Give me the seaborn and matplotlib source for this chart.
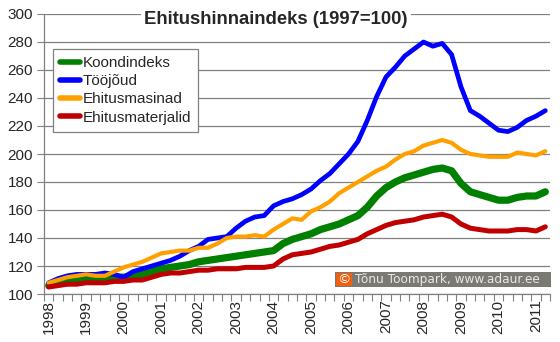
import numpy as np
import pandas as pd
import matplotlib
matplotlib.use("Agg")
import matplotlib.pyplot as plt
from matplotlib.patches import Rectangle
import seaborn as sns

# ---------------- data (quarterly, 1998Q1 .. 2011Q2) ----------------
year_labels = ["1998", "1999", "2000", "2001", "2002", "2003", "2004",
               "2005", "2006", "2007", "2008", "2009", "2010", "2011"]
quarters = [f"{y}Q{q}" for y in range(1998, 2012) for q in range(1, 5)][:54]

koondindeks = [106, 108, 109, 110, 111, 111, 112, 112, 112, 113, 114, 116,
               118, 119, 120, 121, 123, 124, 125, 126, 127, 128, 129, 130,
               131, 136, 139, 141, 143, 146, 148, 150, 153, 156, 162, 170,
               176, 180, 183, 185, 187, 189, 190, 188, 179, 173, 171, 169,
               167, 167, 169, 170, 170, 173]
toojoud = [108, 111, 113, 114, 114, 114, 115, 114, 112, 116, 118, 120,
           122, 124, 127, 131, 134, 139, 140, 141, 147, 152, 155, 156,
           163, 166, 168, 171, 175, 181, 186, 193, 200, 209, 224, 241,
           255, 262, 270, 275, 280, 277, 279, 271, 248, 231, 227, 222,
           217, 216, 219, 224, 227, 231]
ehitusmasinad = [108, 110, 112, 113, 114, 113, 113, 116, 119, 121, 123, 126,
                 129, 130, 131, 131, 133, 133, 136, 140, 141, 141, 142, 141,
                 146, 150, 154, 153, 159, 162, 166, 172, 176, 180, 184, 188,
                 191, 196, 200, 202, 206, 208, 210, 208, 203, 200, 199, 198,
                 198, 198, 201, 200, 199, 202]
ehitusmaterjalid = [105, 106, 107, 107, 108, 108, 108, 109, 109, 110, 110, 112,
                    114, 115, 115, 116, 117, 117, 118, 118, 118, 119, 119, 119,
                    120, 125, 128, 129, 130, 132, 134, 135, 137, 139, 143, 146,
                    149, 151, 152, 153, 155, 156, 157, 155, 150, 147, 146, 145,
                    145, 145, 146, 146, 145, 148]

series_names = ["Koondindeks", "Tööjõud", "Ehitusmasinad", "Ehitusmaterjalid"]
series_values = [koondindeks, toojoud, ehitusmasinad, ehitusmaterjalid]
series_colors = ["#008000", "#0000ff", "#ffa000", "#c00000"]
series_widths = [5.2, 3.4, 3.0, 3.6]

title = "Ehitushinnaindeks (1997=100)"
copyright_text = "Tõnu Toompark, www.adaur.ee"

# ---------------- figure ----------------
sns.set_style("white")
plt.rcParams["font.family"] = ["Liberation Sans", "DejaVu Sans"]

fig = plt.figure(figsize=(5.6, 3.42), dpi=100)
ax = fig.add_axes([44 / 560, 1 - 294 / 342, (550 - 44) / 560, (294 - 14) / 342])

pos = np.arange(len(quarters))
for name, vals, col, lw in zip(series_names, series_values, series_colors, series_widths):
    df = pd.DataFrame({"pos": pos, "value": vals})
    sns.lineplot(data=df, x="pos", y="value", ax=ax, color=col, linewidth=lw,
                 label=name, solid_capstyle="round", solid_joinstyle="round")

ax.set_xlim(-0.5, len(quarters) - 0.5)
ax.set_ylim(100, 300)
ax.set_xlabel("")
ax.set_ylabel("")

# y axis
ax.set_yticks(np.arange(100, 301, 20))
ax.yaxis.grid(True, color="#808080", linewidth=0.9)
ax.xaxis.grid(False)
ax.tick_params(axis="y", direction="out", length=5, width=0.8, color="#808080",
               labelsize=11, pad=3, left=True)

# x axis: labels at year starts, tick marks between quarters
ax.set_xticks(pos[::4])
ax.set_xticklabels(year_labels, rotation=90)
ax.set_xticks(np.arange(-0.5, len(quarters), 1), minor=True)
ax.tick_params(axis="x", which="major", length=0, labelsize=11, pad=4)
ax.tick_params(axis="x", which="minor", direction="out", length=5, width=0.8,
               color="#808080", bottom=True)

for s in ["top", "right"]:
    ax.spines[s].set_visible(False)
for s in ["left", "bottom"]:
    ax.spines[s].set_color("#808080")
    ax.spines[s].set_linewidth(0.9)

# legend
leg = ax.legend(loc="upper left", bbox_to_anchor=(53 / 560, 1 - 49 / 342),
                bbox_transform=fig.transFigure, fontsize=11, frameon=True,
                fancybox=False, framealpha=1, edgecolor="#808080",
                handlelength=1.3, handletextpad=0.2, labelspacing=0.28,
                borderpad=0.45, borderaxespad=0)
leg.get_frame().set_linewidth(0.9)
for h in leg.get_lines():
    h.set_linewidth(4.0)
    h.set_solid_capstyle("round")

# title with white box over the top gridline
fig.text(276 / 560, 1 - 20 / 342, title, ha="center", va="center",
         fontsize=13.3, fontweight="bold",
         bbox=dict(facecolor="white", edgecolor="none", pad=2.5))

# copyright box
fig.patches.append(Rectangle((335 / 560, 1 - 287 / 342), (551 - 335) / 560, 15 / 342,
                             transform=fig.transFigure, facecolor="#7a7a72",
                             edgecolor="none", zorder=5))
fig.patches.append(Rectangle((336 / 560, 1 - 286 / 342), 16 / 560, 13 / 342,
                             transform=fig.transFigure, facecolor="#f06010",
                             edgecolor="none", zorder=6))
fig.text(344 / 560, 1 - 279.5 / 342, "©", ha="center", va="center", color="white",
         fontsize=9.5, family="DejaVu Sans", zorder=7)
fig.text(355 / 560, 1 - 279.5 / 342, copyright_text, ha="left", va="center",
         color="#e8e8e8", fontsize=8.7, family="DejaVu Sans", zorder=7)

fig.savefig("out.png", dpi=100, facecolor="white")
